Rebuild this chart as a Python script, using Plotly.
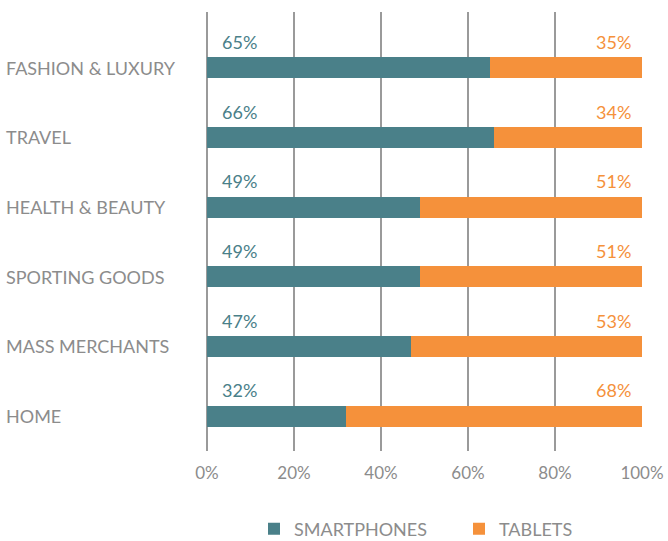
import plotly.graph_objects as go

categories = ["HOME", "MASS MERCHANTS", "SPORTING GOODS", "HEALTH & BEAUTY", "TRAVEL", "FASHION & LUXURY"]
smartphones = [32, 47, 49, 49, 66, 65]
tablets = [68, 53, 51, 51, 34, 35]
tick_vals = [0, 20, 40, 60, 80, 100]
tick_text = ["0%", "20%", "40%", "60%", "80%", "100%"]

TEAL = "#4A8089"
ORANGE = "#F5913B"
GRAY = "#8C8C8C"
FONT = "Lato"

fig = go.Figure()
fig.add_trace(go.Bar(y=list(range(len(categories))), x=smartphones, orientation="h",
                     name="SMARTPHONES", marker=dict(color=TEAL, line=dict(width=0)), width=0.3,
                     legend="legend"))
fig.add_trace(go.Bar(y=list(range(len(categories))), x=tablets, orientation="h",
                     name="TABLETS", marker=dict(color=ORANGE, line=dict(width=0)), width=0.3,
                     legend="legend2"))

annotations = []
for i, (c, s, t) in enumerate(zip(categories, smartphones, tablets)):
    annotations.append(dict(x=-0.466, xref="paper", y=i, yref="y", text=c, showarrow=False,
                            xanchor="left", yanchor="middle",
                            font=dict(family=FONT, size=18, color=GRAY)))
    annotations.append(dict(x=3, xref="x", y=i + 0.37, yref="y", text=f"{s}%", showarrow=False,
                            xanchor="left", yanchor="middle",
                            font=dict(family=FONT, size=18, color=TEAL)))
    annotations.append(dict(x=98, xref="x", y=i + 0.37, yref="y", text=f"{t}%", showarrow=False,
                            xanchor="right", yanchor="middle",
                            font=dict(family=FONT, size=18, color=ORANGE)))

legend_common = dict(orientation="h", xanchor="left", y=-0.178, yanchor="middle",
                     font=dict(family=FONT, size=18, color=GRAY), itemwidth=30,
                     bgcolor="rgba(0,0,0,0)")

fig.update_layout(
    barmode="stack",
    width=668, height=541,
    margin=dict(l=207, r=26, t=12, b=90, autoexpand=False),
    plot_bgcolor="white", paper_bgcolor="white",
    showlegend=True,
    legend=dict(x=(254 - 207) / 435, **legend_common),
    legend2=dict(x=(459 - 207) / 435, **legend_common),
    annotations=annotations,
    bargap=0,
)
fig.update_xaxes(range=[0, 100], tickvals=tick_vals, ticktext=tick_text,
                 showgrid=True, gridcolor="#9A9A9A", gridwidth=2,
                 zeroline=True, zerolinecolor="#9A9A9A", zerolinewidth=2,
                 showline=False, ticks="", ticklabelstandoff=10, automargin=False,
                 tickfont=dict(family=FONT, size=17, color=GRAY), fixedrange=True)
fig.update_yaxes(range=[-0.5, 5.8], showticklabels=False, showgrid=False, zeroline=False,
                 ticks="", fixedrange=True, automargin=False)

fig.write_html("out.html", config={"displayModeBar": False},
               post_script="document.body.style.margin='0';")
